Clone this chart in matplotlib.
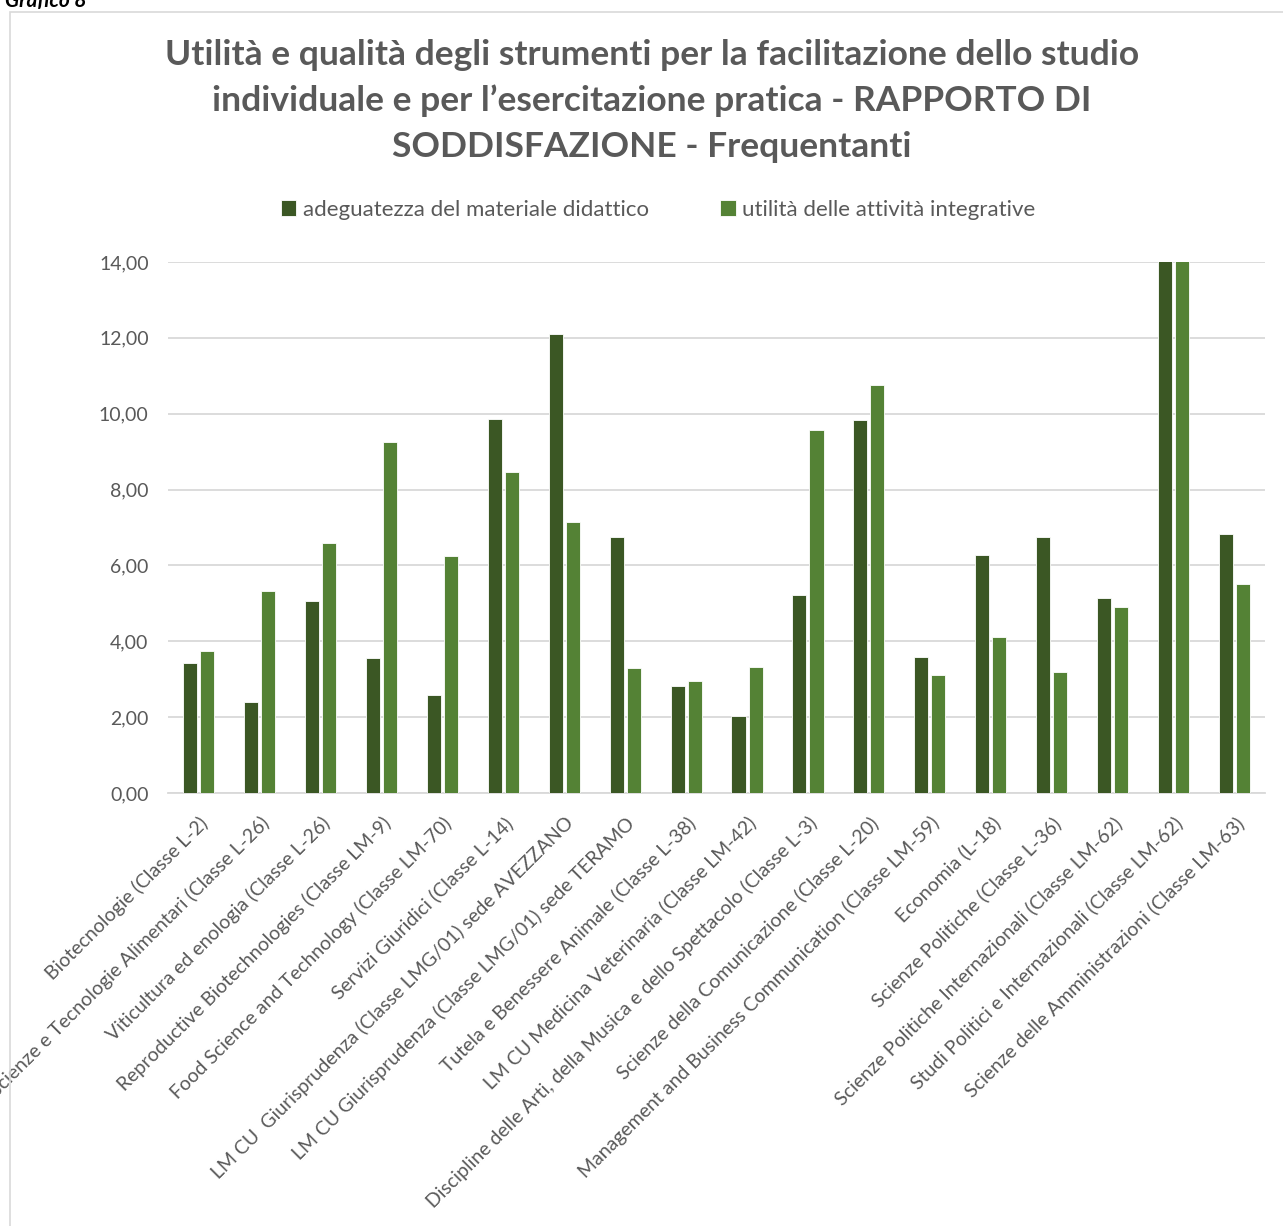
import numpy as np
import matplotlib
matplotlib.use("Agg")
import matplotlib.pyplot as plt
from matplotlib.patches import Rectangle
from matplotlib.ticker import MultipleLocator, FuncFormatter

plt.rcParams['font.family'] = ['Lato', 'DejaVu Sans']

# corsi di studio e rapporti di soddisfazione (frequentanti)
corsi = [
    "Biotecnologie (Classe L-2)",
    "Scienze e Tecnologie Alimentari (Classe L-26)",
    "Viticultura ed enologia (Classe L-26)",
    "Reproductive Biotechnologies (Classe LM-9)",
    "Food Science and Technology (Classe LM-70)",
    "Servizi Giuridici (Classe L-14)",
    "LM CU  Giurisprudenza (Classe LMG/01) sede AVEZZANO",
    "LM CU Giurisprudenza (Classe LMG/01) sede TERAMO",
    "Tutela e Benessere Animale (Classe L-38)",
    "LM CU Medicina Veterinaria (Classe LM-42)",
    "Discipline delle Arti, della Musica e dello Spettacolo (Classe L-3)",
    "Scienze della Comunicazione (Classe L-20)",
    "Management and Business Communication (Classe LM-59)",
    "Economia (L-18)",
    "Scienze Politiche (Classe L-36)",
    "Scienze Politiche Internazionali (Classe LM-62)",
    "Studi Politici e Internazionali (Classe LM-62)",
    "Scienze delle Amministrazioni (Classe LM-63)",
]
materiale = [3.42, 2.41, 5.05, 3.57, 2.59, 9.86, 12.10, 6.74, 2.81, 2.02,
             5.22, 9.83, 3.59, 6.28, 6.75, 5.13, 15.00, 6.83]
integrative = [3.75, 5.32, 6.58, 9.26, 6.26, 8.46, 7.14, 3.29, 2.95, 3.33,
               9.56, 10.76, 3.12, 4.11, 3.18, 4.90, 15.00, 5.51]
serie = ["adeguatezza del materiale didattico", "utilità delle attività integrative"]

scuro = "#3B5724"
chiaro = "#548235"
grigio = "#595959"

fig = plt.figure(figsize=(12.83, 12.26), dpi=100)

# cornice del grafico
fig.patches.append(Rectangle((10 / 1283, -0.05), 1.05, 1 - 12 / 1226 + 0.05,
                             transform=fig.transFigure, fill=False,
                             edgecolor="#D9D9D9", linewidth=1.2))

fig.text(0.004, 1 - 7 / 1226, "Grafico 8", fontsize=15, fontweight="bold",
         fontstyle="italic", va="baseline", ha="left", color="black")

ax = fig.add_axes([0.131, 0.3532, 0.855, 0.4331])
x = np.arange(len(corsi))
w = 0.23
ax.bar(x - 0.14, materiale, w, color=scuro, edgecolor="white", linewidth=0.6,
       label=serie[0], zorder=3)
ax.bar(x + 0.14, integrative, w, color=chiaro, edgecolor="white", linewidth=0.6,
       label=serie[1], zorder=3)

ax.set_xlim(-0.5, len(corsi) - 0.5)
ax.set_ylim(0, 14)
ax.yaxis.set_major_locator(MultipleLocator(2))
ax.yaxis.set_major_formatter(FuncFormatter(lambda v, p: f"{v:.2f}".replace(".", ",")))
ax.grid(axis="y", color="#D9D9D9", linewidth=1.3, zorder=0)
for s in ["top", "right", "left"]:
    ax.spines[s].set_visible(False)
ax.spines["bottom"].set_color("#D9D9D9")
ax.spines["bottom"].set_linewidth(1.3)
ax.tick_params(axis="both", length=0, colors=grigio, labelsize=14)
ax.tick_params(axis="y", pad=14)
ax.set_xticks(x)
ax.set_xticklabels(corsi, rotation=45, ha="right", rotation_mode="anchor",
                   fontsize=14, color=grigio)
ax.tick_params(axis="x", pad=15)

fig.text(0.508, 1 - 101 / 1226,
         "Utilità e qualità degli strumenti per la facilitazione dello studio\n"
         "individuale e per l’esercitazione pratica - RAPPORTO DI\n"
         "SODDISFAZIONE - Frequentanti",
         ha="center", va="center", fontsize=25.5, fontweight="bold",
         color=grigio, linespacing=1.52)

fig.legend(loc="center", bbox_to_anchor=(0.513, 1 - 210 / 1226), ncol=2,
           frameon=False, fontsize=16, labelcolor=grigio, handlelength=0.7,
           handleheight=0.7, handletextpad=0.3, columnspacing=3.2)

fig.savefig("out.png", dpi=100)
